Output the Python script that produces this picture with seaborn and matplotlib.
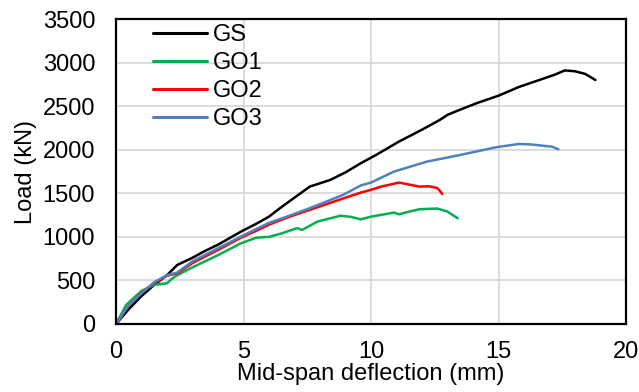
import matplotlib
matplotlib.use("Agg")
import matplotlib.pyplot as plt
import seaborn as sns
import pandas as pd

gs_x = [0, 0.5, 1.0, 1.5, 2.0, 2.4, 3.0, 3.5, 4.0, 4.9, 5.5, 6.0, 6.3, 6.6, 7.0, 7.6, 8.4, 9.0, 9.6,
        10.2, 11.1, 12.0, 12.7, 13.0, 13.5, 14.2, 15.0, 15.8, 16.5, 17.2, 17.6, 18.0, 18.4, 18.8]
gs_y = [0, 170, 320, 450, 560, 677, 760, 840, 910, 1060, 1150, 1232, 1300, 1366, 1450, 1577, 1653, 1740, 1845,
        1940, 2094, 2230, 2342, 2400, 2460, 2540, 2620, 2720, 2790, 2860, 2910, 2900, 2870, 2800]

go1_x = [0, 0.4, 1.0, 1.5, 2.0, 2.2, 2.4, 3.0, 4.0, 4.9, 5.5, 6.0, 6.5, 7.1, 7.3, 7.9, 8.5, 8.8, 9.2, 9.6,
         10.0, 10.9, 11.1, 11.5, 11.9, 12.6, 13.0, 13.4]
go1_y = [0, 220, 380, 450, 467, 520, 560, 650, 790, 926, 990, 1000, 1040, 1100, 1080, 1175, 1220, 1243, 1230, 1201,
         1232, 1278, 1259, 1290, 1317, 1325, 1290, 1213]

go2_x = [0, 0.5, 1.0, 1.5, 2.0, 2.4, 3.0, 4.0, 4.9, 5.5, 6.0, 6.7, 7.6, 8.5, 9.0, 9.6, 10.0, 10.4, 11.1,
         11.5, 11.9, 12.3, 12.6, 12.8]
go2_y = [0, 210, 360, 470, 555, 580, 700, 850, 990, 1070, 1140, 1220, 1310, 1400, 1450, 1508, 1540, 1577, 1623,
         1600, 1577, 1580, 1560, 1492]

go3_x = [0, 0.5, 1.07, 1.5, 2.0, 2.4, 3.0, 4.0, 4.9, 5.5, 6.0, 6.7, 7.6, 8.9, 9.6, 10.0, 10.9, 12.2, 13.5,
         14.9, 15.8, 16.3, 16.8, 17.1, 17.35]
go3_y = [0, 220, 371, 480, 560, 590, 720, 870, 1003, 1090, 1160, 1232, 1329, 1481, 1590, 1623, 1749, 1864, 1940,
         2028, 2066, 2060, 2044, 2035, 2005]

series = ["GS", "GO1", "GO2", "GO3"]
colors = ["#000000", "#00B050", "#FF0000", "#4F81BD"]
x_ticks = [0, 5, 10, 15, 20]
y_ticks = [0, 500, 1000, 1500, 2000, 2500, 3000, 3500]

frames = []
for name, xs, ys in zip(series, [gs_x, go1_x, go2_x, go3_x], [gs_y, go1_y, go2_y, go3_y]):
    frames.append(pd.DataFrame({"x": xs, "y": ys, "s": name}))
df = pd.concat(frames, ignore_index=True)

sns.set_style("white")
plt.rcParams["font.family"] = ["Liberation Sans", "DejaVu Sans"]
plt.rcParams["text.color"] = "black"
plt.rcParams["axes.labelcolor"] = "black"
FS = 17

fig = plt.figure(figsize=(6.39, 3.92), dpi=100)
ax = fig.add_axes([116 / 639, 1 - 324 / 392, 510 / 639, 305 / 392])

sns.lineplot(data=df, x="x", y="y", hue="s", hue_order=series, palette=colors,
             sort=False, estimator=None, lw=1.8, ax=ax)

ax.set_xlim(0, 20)
ax.set_ylim(0, 3500)
ax.set_xticks(x_ticks)
ax.set_yticks(y_ticks)
ax.grid(True, color="#D9D9D9", lw=1.3)
ax.set_axisbelow(True)
for sp in ax.spines.values():
    sp.set_color("black")
    sp.set_linewidth(1.6)
ax.tick_params(axis="y", length=0, labelsize=FS, pad=15, colors="black")
ax.tick_params(axis="x", length=0, labelsize=FS, pad=12, colors="black")
ax.set_xlabel("Mid-span deflection (mm)", fontsize=FS, labelpad=0, color="black")
ax.set_ylabel("Load (kN)", fontsize=FS, labelpad=4, color="black")

leg = ax.legend(loc="upper left", bbox_to_anchor=(0.072, 0.982), frameon=False, fontsize=FS,
                handlelength=2.3, handletextpad=0.25, labelspacing=0.25, borderaxespad=0.0,
                borderpad=0.0)
for line in leg.get_lines():
    line.set_linewidth(2.2)
for t in leg.get_texts():
    t.set_color("black")

fig.savefig("out.png", dpi=100)
